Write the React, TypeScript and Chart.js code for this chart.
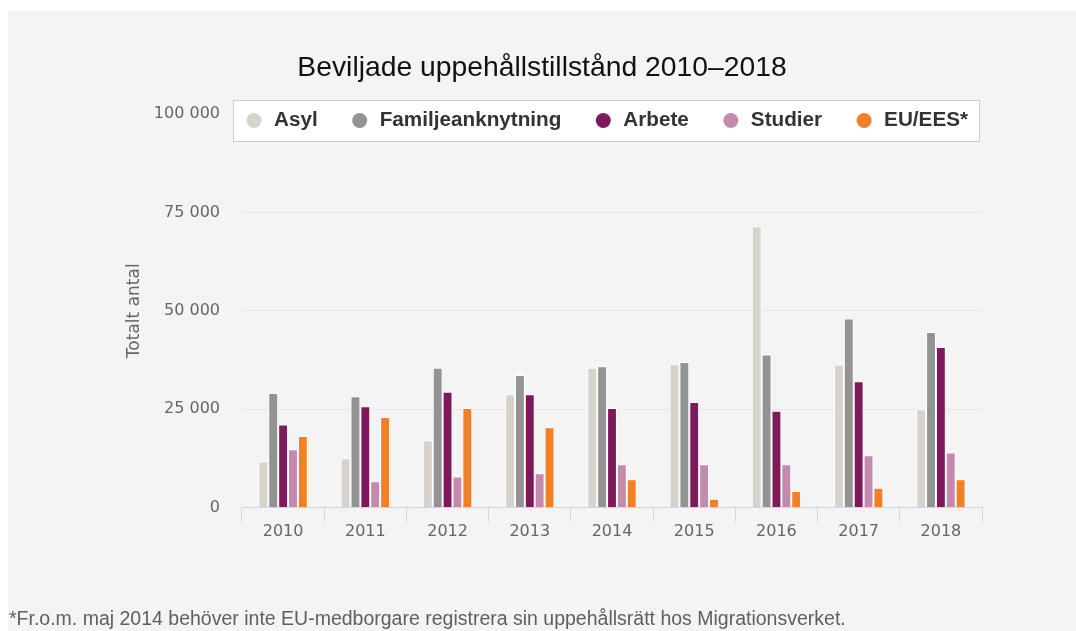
import React, { useEffect, useRef } from "react";
import { Chart, registerables } from "chart.js";

Chart.register(...registerables);

const years = ["2010", "2011", "2012", "2013", "2014", "2015", "2016", "2017", "2018"];
const asyl = [11700, 12500, 17100, 28800, 35500, 36400, 71500, 36300, 25000];
const familj = [29100, 28300, 35500, 33700, 35900, 37000, 38900, 48000, 44600];
const arbete = [21100, 25700, 29400, 28800, 25300, 26800, 24600, 32100, 40800];
const studier = [14800, 6700, 7900, 8700, 11000, 11000, 11000, 13300, 14000];
const euees = [18200, 23000, 25300, 20400, 7200, 2200, 4200, 5000, 7200];

const seriesNames = ["Asyl", "Familjeanknytning", "Arbete", "Studier", "EU/EES*"];
const seriesColors = ["#d7d2cc", "#939393", "#7e1a5b", "#c48aad", "#f18026"];
const yTicks = [0, 25000, 50000, 75000, 100000];

const titleText = "Beviljade uppehållstillstånd 2010–2018";
const yTitle = "Totalt antal";
const footnote = "*Fr.o.m. maj 2014 behöver inte EU-medborgare registrera sin uppehållsrätt hos Migrationsverket.";

const fmt = (v: number) => String(v).replace(/\B(?=(\d{3})+(?!\d))/g, " ");

const boxLegend = {
  id: "boxLegend",
  afterDraw(chart: any) {
    const ctx = chart.ctx as CanvasRenderingContext2D;
    ctx.save();
    ctx.font = 'bold 20.7px "Liberation Sans", Arial, sans-serif';
    const ds = chart.data.datasets;
    const widths = ds.map((d: any) => ctx.measureText(d.label).width);
    const padL = 21, textGap = 20, itemGap = 42, padR = 11, r = 7.5;
    let total = padL + padR + itemGap * (ds.length - 1);
    widths.forEach((w: number) => (total += textGap + w));
    const cx = 598.5;
    const left = Math.round(cx - total / 2);
    const top = 89, h = 41;
    ctx.fillStyle = "#ffffff";
    ctx.fillRect(left, top, total, h);
    ctx.strokeStyle = "#cccccc";
    ctx.lineWidth = 1;
    ctx.strokeRect(left + 0.5, top + 0.5, total, h);
    let x = left + padL;
    const cy = top + 20.5;
    ds.forEach((d: any, i: number) => {
      ctx.beginPath();
      ctx.fillStyle = d.backgroundColor;
      ctx.arc(x, cy, r, 0, Math.PI * 2);
      ctx.fill();
      ctx.fillStyle = "#333333";
      ctx.textBaseline = "middle";
      ctx.textAlign = "left";
      ctx.fillText(d.label, x + textGap, cy);
      x += textGap + widths[i] + itemGap;
    });
    ctx.font = '19.5px "Liberation Sans", Arial, sans-serif';
    ctx.fillStyle = "#5f5f5f";
    ctx.textBaseline = "alphabetic";
    ctx.fillText(footnote, 1, 614);
    ctx.restore();
  },
};

export default function App() {
  const ref = useRef<HTMLCanvasElement>(null);
  useEffect(() => {
    if (!ref.current) return;
    const all = [asyl, familj, arbete, studier, euees];
    const chart = new Chart(ref.current, {
      type: "bar",
      data: {
        labels: years,
        datasets: all.map((data, i) => ({
          label: seriesNames[i],
          data,
          backgroundColor: seriesColors[i],
          borderColor: "#ffffff",
          borderWidth: 1,
          categoryPercentage: 0.6,
          barPercentage: 1.0,
        })),
      },
      plugins: [boxLegend],
      options: {
        animation: false,
        responsive: false,
        layout: { padding: { left: 94, right: 94, top: 0, bottom: 73.5 } },
        plugins: {
          legend: { display: false },
          tooltip: { enabled: false },
          title: {
            display: true,
            text: titleText,
            color: "#111111",
            font: { family: '"Liberation Sans", Arial, sans-serif', size: 28.3, weight: "normal" },
            padding: { top: 40, bottom: 29.04 },
          },
        },
        scales: {
          x: {
            grid: {
              offset: true,
              drawOnChartArea: false,
              drawTicks: true,
              tickLength: 14,
              color: "#ccd6eb",
            },
            border: { display: true, color: "#ccd6eb" },
            ticks: {
              color: "#666666",
              font: { family: '"DejaVu Sans", sans-serif', size: 16 },
              padding: 1,
              maxRotation: 0,
            },
            afterFit: (s: any) => {
              s.height = 50;
            },
          },
          y: {
            min: 0,
            max: 100000,
            afterBuildTicks: (s: any) => {
              s.ticks = yTicks.map((v) => ({ value: v }));
            },
            grid: { color: "#e6e6e6", drawTicks: false },
            border: { display: false },
            ticks: {
              color: "#666666",
              font: { family: '"DejaVu Sans", sans-serif', size: 16 },
              padding: 22,
              callback: (v: any) => fmt(Number(v)),
            },
            title: {
              display: true,
              text: yTitle,
              color: "#666666",
              font: { family: '"DejaVu Sans", sans-serif', size: 17 },
              padding: { top: 22.5, bottom: 0 },
            },
            afterFit: (s: any) => {
              s.width = 140;
            },
          },
        },
      },
    } as any);
    return () => chart.destroy();
  }, []);
  return (
    <div
      style={{
        position: "absolute",
        left: 8,
        top: 11,
        width: 1068,
        height: 620,
        background: "#f4f4f4",
      }}
    >
      <canvas ref={ref} width={1068} height={620} style={{ display: "block" }} />
    </div>
  );
}
